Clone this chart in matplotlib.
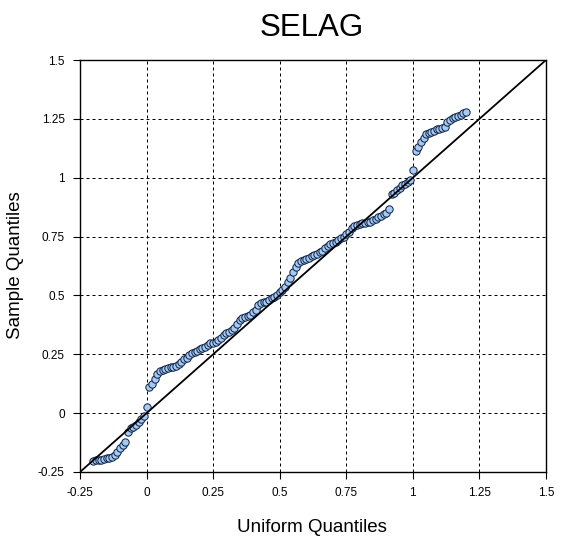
import matplotlib
matplotlib.use("Agg")
import matplotlib.pyplot as plt

plt.rcParams['font.family'] = ['Liberation Sans', 'DejaVu Sans']

# Uniform (theoretical) quantiles
uniform_q = [
    -0.20, -0.19, -0.18, -0.17, -0.16, -0.15, -0.14, -0.13, -0.12, -0.11,
    -0.10, -0.09, -0.08, -0.07, -0.06, -0.05, -0.04, -0.03, -0.02, -0.01,
    0.00, 0.01, 0.02, 0.03, 0.04, 0.05, 0.06, 0.07, 0.08, 0.09,
    0.10, 0.11, 0.12, 0.13, 0.14, 0.15, 0.16, 0.17, 0.18, 0.19,
    0.20, 0.21, 0.22, 0.23, 0.24, 0.25, 0.26, 0.27, 0.28, 0.29,
    0.30, 0.31, 0.32, 0.33, 0.34, 0.35, 0.36, 0.37, 0.38, 0.39,
    0.40, 0.41, 0.42, 0.43, 0.44, 0.45, 0.46, 0.47, 0.48, 0.49,
    0.50, 0.51, 0.52, 0.53, 0.54, 0.55, 0.56, 0.57, 0.58, 0.59,
    0.60, 0.61, 0.62, 0.63, 0.64, 0.65, 0.66, 0.67, 0.68, 0.69,
    0.70, 0.71, 0.72, 0.73, 0.74, 0.75, 0.76, 0.77, 0.78, 0.79,
    0.80, 0.81, 0.82, 0.83, 0.84, 0.85, 0.86, 0.87, 0.88, 0.89,
    0.90, 0.91, 0.92, 0.93, 0.94, 0.95, 0.96, 0.97, 0.98, 0.99,
    1.00, 1.01, 1.02, 1.03, 1.04, 1.05, 1.06, 1.07, 1.08, 1.09,
    1.10, 1.11, 1.12, 1.13, 1.14, 1.15, 1.16, 1.17, 1.18, 1.19,
    1.20,
]

# Sample quantiles
sample_q = [
    -0.203, -0.201, -0.200, -0.198, -0.195, -0.191, -0.189, -0.187, -0.178, -0.163,
    -0.146, -0.134, -0.122, -0.080, -0.064, -0.058, -0.050, -0.037, -0.024, -0.012,
    0.025, 0.110, 0.122, 0.145, 0.165, 0.177, 0.184, 0.188, 0.192, 0.194,
    0.197, 0.202, 0.208, 0.217, 0.228, 0.236, 0.247, 0.254, 0.258, 0.265,
    0.271, 0.276, 0.281, 0.290, 0.297, 0.300, 0.303, 0.310, 0.318, 0.332,
    0.339, 0.345, 0.352, 0.362, 0.380, 0.394, 0.403, 0.407, 0.411, 0.418,
    0.428, 0.440, 0.460, 0.467, 0.470, 0.474, 0.480, 0.488, 0.494, 0.500,
    0.513, 0.524, 0.535, 0.555, 0.572, 0.598, 0.620, 0.637, 0.645, 0.651,
    0.655, 0.660, 0.668, 0.673, 0.678, 0.684, 0.690, 0.700, 0.712, 0.718,
    0.722, 0.729, 0.735, 0.742, 0.748, 0.760, 0.768, 0.788, 0.795, 0.799,
    0.803, 0.806, 0.809, 0.810, 0.812, 0.820, 0.826, 0.833, 0.839, 0.845,
    0.852, 0.866, 0.930, 0.937, 0.946, 0.958, 0.967, 0.975, 0.982, 0.990,
    1.032, 1.112, 1.132, 1.150, 1.170, 1.184, 1.190, 1.193, 1.200, 1.205,
    1.209, 1.212, 1.215, 1.236, 1.245, 1.252, 1.256, 1.262, 1.268, 1.273,
    1.279,
]

ticks = [-0.25, 0, 0.25, 0.5, 0.75, 1, 1.25, 1.5]
tick_labels = ["-0.25", "0", "0.25", "0.5", "0.75", "1", "1.25", "1.5"]
ref_line = [-0.25, 1.5]

fig = plt.figure(figsize=(5.76, 5.41), dpi=100)
ax = fig.add_axes([80/576, 69/541, 466/576, 412/541])

ax.set_xlim(-0.25, 1.5)
ax.set_ylim(-0.25, 1.5)
ax.set_xticks(ticks)
ax.set_xticklabels(tick_labels)
ax.set_yticks(ticks)
ax.set_yticklabels(tick_labels)

ax.grid(True, color='black', linestyle=(0, (3, 3)), linewidth=0.72)
ax.set_axisbelow(True)

ax.scatter(uniform_q, sample_q, s=28, facecolor='#A6CAF0', edgecolor='#0A1F44',
           linewidths=0.7, zorder=3)
ax.plot(ref_line, ref_line, color='black', linewidth=1.3, zorder=4)

for sp in ax.spines.values():
    sp.set_color('black')
    sp.set_linewidth(1.0)

ax.tick_params(axis='both', direction='out', length=5, width=0.8, labelsize=8.5,
               colors='black', pad=6)

fig.text(312/576, 1 - 28/541, "SELAG", ha='center', va='center', fontsize=22.5)
fig.text(312/576, 1 - 527/541, "Uniform Quantiles", ha='center', va='center', fontsize=13.5)
fig.text(16/576, 1 - 265/541, "Sample Quantiles", ha='center', va='center',
         rotation=90, fontsize=13.5)

fig.savefig("out.png", dpi=100)
